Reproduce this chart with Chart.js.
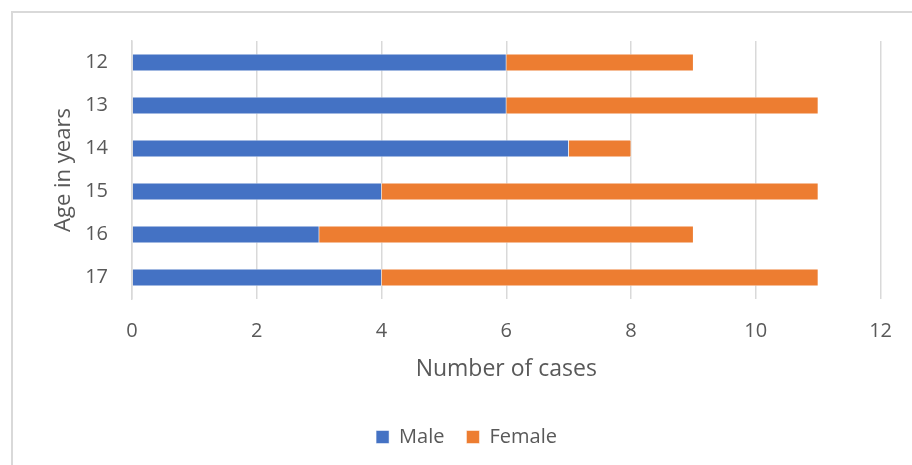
<!DOCTYPE html>
<html>
<head>
<meta charset="utf-8">
<script src="https://cdn.jsdelivr.net/npm/chart.js@4.4.1/dist/chart.umd.min.js"></script>
<style>
  html, body { margin: 0; padding: 0; background: #fff; overflow: hidden; }
  .frame { position: absolute; left: 11px; top: 11px; width: 960px; height: 520px; border: 2px solid #d9d9d9; box-sizing: border-box; }
  .wrap { position: absolute; left: 0; top: 0; width: 912px; height: 465px; }
</style>
</head>
<body>
<div class="frame"></div>
<div class="wrap"><canvas id="myBarChart"></canvas></div>
<script>
const ages = ['12', '13', '14', '15', '16', '17'];
const maleCases = [6, 6, 7, 4, 3, 4];
const femaleCases = [3, 5, 1, 7, 6, 7];
const xTicks = [0, 2, 4, 6, 8, 10, 12];

const fontName = "'Open Sans', sans-serif";
const textColor = '#595959';
const gridColor = '#d9d9d9';

const ctx = document.getElementById('myBarChart').getContext('2d');

new Chart(ctx, {
  type: 'bar',
  data: {
    labels: ages,
    datasets: [
      {
        label: 'Male',
        data: maleCases,
        backgroundColor: '#4472c4',
        borderColor: '#ffffff',
        borderWidth: 0.5
      },
      {
        label: 'Female',
        data: femaleCases,
        backgroundColor: '#ed7d31',
        borderColor: '#ffffff',
        borderWidth: 0.5
      }
    ]
  },
  options: {
    indexAxis: 'y',
    responsive: true,
    maintainAspectRatio: false,
    animation: false,
    datasets: {
      bar: { barPercentage: 0.4, categoryPercentage: 1 }
    },
    layout: {
      padding: { left: 51, right: 30, top: 41, bottom: 8 }
    },
    scales: {
      x: {
        stacked: true,
        min: 0,
        max: 12,
        afterBuildTicks: (axis) => { axis.ticks = xTicks.map(v => ({ value: v })); },
        afterFit: (axis) => { axis.height = 106; },
        grid: { color: gridColor, lineWidth: 1.5, drawTicks: false },
        border: { display: false },
        ticks: { color: textColor, font: { family: fontName, size: 20 }, padding: 20 },
        title: {
          display: true,
          text: 'Number of cases',
          color: textColor,
          font: { family: fontName, size: 23 },
          padding: { top: 0, bottom: 22 }
        }
      },
      y: {
        stacked: true,
        afterFit: (axis) => { axis.width = 81; },
        grid: { display: false, drawTicks: false },
        border: { display: true, color: gridColor, width: 1.5 },
        ticks: { color: textColor, font: { family: fontName, size: 20 }, padding: 24 },
        title: {
          display: true,
          text: 'Age in years',
          color: textColor,
          font: { family: fontName, size: 22 },
          padding: { top: 0, bottom: 0 }
        }
      }
    },
    plugins: {
      legend: {
        position: 'bottom',
        labels: {
          color: textColor,
          font: { family: fontName, size: 20 },
          boxWidth: 13,
          boxHeight: 13,
          padding: 22
        }
      },
      tooltip: { enabled: false }
    }
  }
});
</script>
</body>
</html>
